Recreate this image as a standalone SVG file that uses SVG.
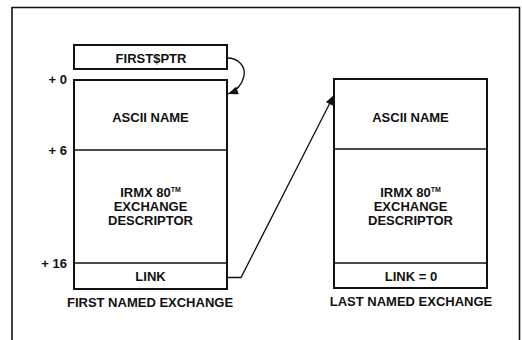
<svg xmlns="http://www.w3.org/2000/svg" width="522" height="340" viewBox="0 0 522 340">
<defs>
<style>
text{font-family:"Liberation Sans",Arial,sans-serif;font-weight:bold;font-size:13px;fill:#111;text-anchor:middle}
.off{font-size:13px;text-anchor:end}
.box{fill:#fff;stroke:#111;stroke-width:2}
.div{stroke:#111;stroke-width:1.5}
.con{fill:none;stroke:#111;stroke-width:1.3}
.tm{font-size:7px}
</style>
<marker id="ah" viewBox="0 0 10 8" refX="10" refY="4" markerWidth="11" markerHeight="8" markerUnits="userSpaceOnUse" orient="auto">
<path d="M0,0 L10,4 L0,8 Z" fill="#111"/>
</marker>
</defs>
<rect x="0" y="0" width="522" height="340" fill="#fff"/>
<path d="M12,345 L12,7.5 L519.5,7.5 L519.5,345" fill="none" stroke="#111" stroke-width="1.6"/>
<g id="firstptr">
<rect class="box" x="74" y="45" width="153" height="24"/>
<text x="151" y="63">FIRST$PTR</text>
</g>
<g id="offsets">
<text class="off" x="67" y="84">+ 0</text>
<text class="off" x="67" y="155">+ 6</text>
<text class="off" x="67" y="268">+ 16</text>
</g>
<g id="first">
<rect class="box" x="74" y="80" width="153" height="209"/>
<line class="div" x1="74" y1="150" x2="227" y2="150"/>
<line class="div" x1="74" y1="263" x2="227" y2="263"/>
<text x="150.5" y="122">ASCII NAME</text>
<text x="150.5" y="197">IRMX 80<tspan class="tm" dy="-5">TM</tspan></text>
<text x="150.5" y="211">EXCHANGE</text>
<text x="150.5" y="225">DESCRIPTOR</text>
<text x="150.5" y="281">LINK</text>
<text x="150" y="307">FIRST NAMED EXCHANGE</text>
</g>
<g id="last">
<rect class="box" x="334" y="79" width="153" height="209"/>
<line class="div" x1="334" y1="149" x2="487" y2="149"/>
<line class="div" x1="334" y1="263" x2="487" y2="263"/>
<text x="410.5" y="122">ASCII NAME</text>
<text x="410.5" y="197">IRMX 80<tspan class="tm" dy="-5">TM</tspan></text>
<text x="410.5" y="211">EXCHANGE</text>
<text x="410.5" y="225">DESCRIPTOR</text>
<text x="411" y="281">LINK = 0</text>
<text x="411" y="306">LAST NAMED EXCHANGE</text>
</g>
<g id="connectors">
<path class="con" d="M227,58 C238,58 246,66 244,76 C242,85 236,91 228,94" marker-end="url(#ah)"/>
<path class="con" d="M227,277.5 L241,277.5 L334,95" marker-end="url(#ah)"/>
</g>
</svg>
